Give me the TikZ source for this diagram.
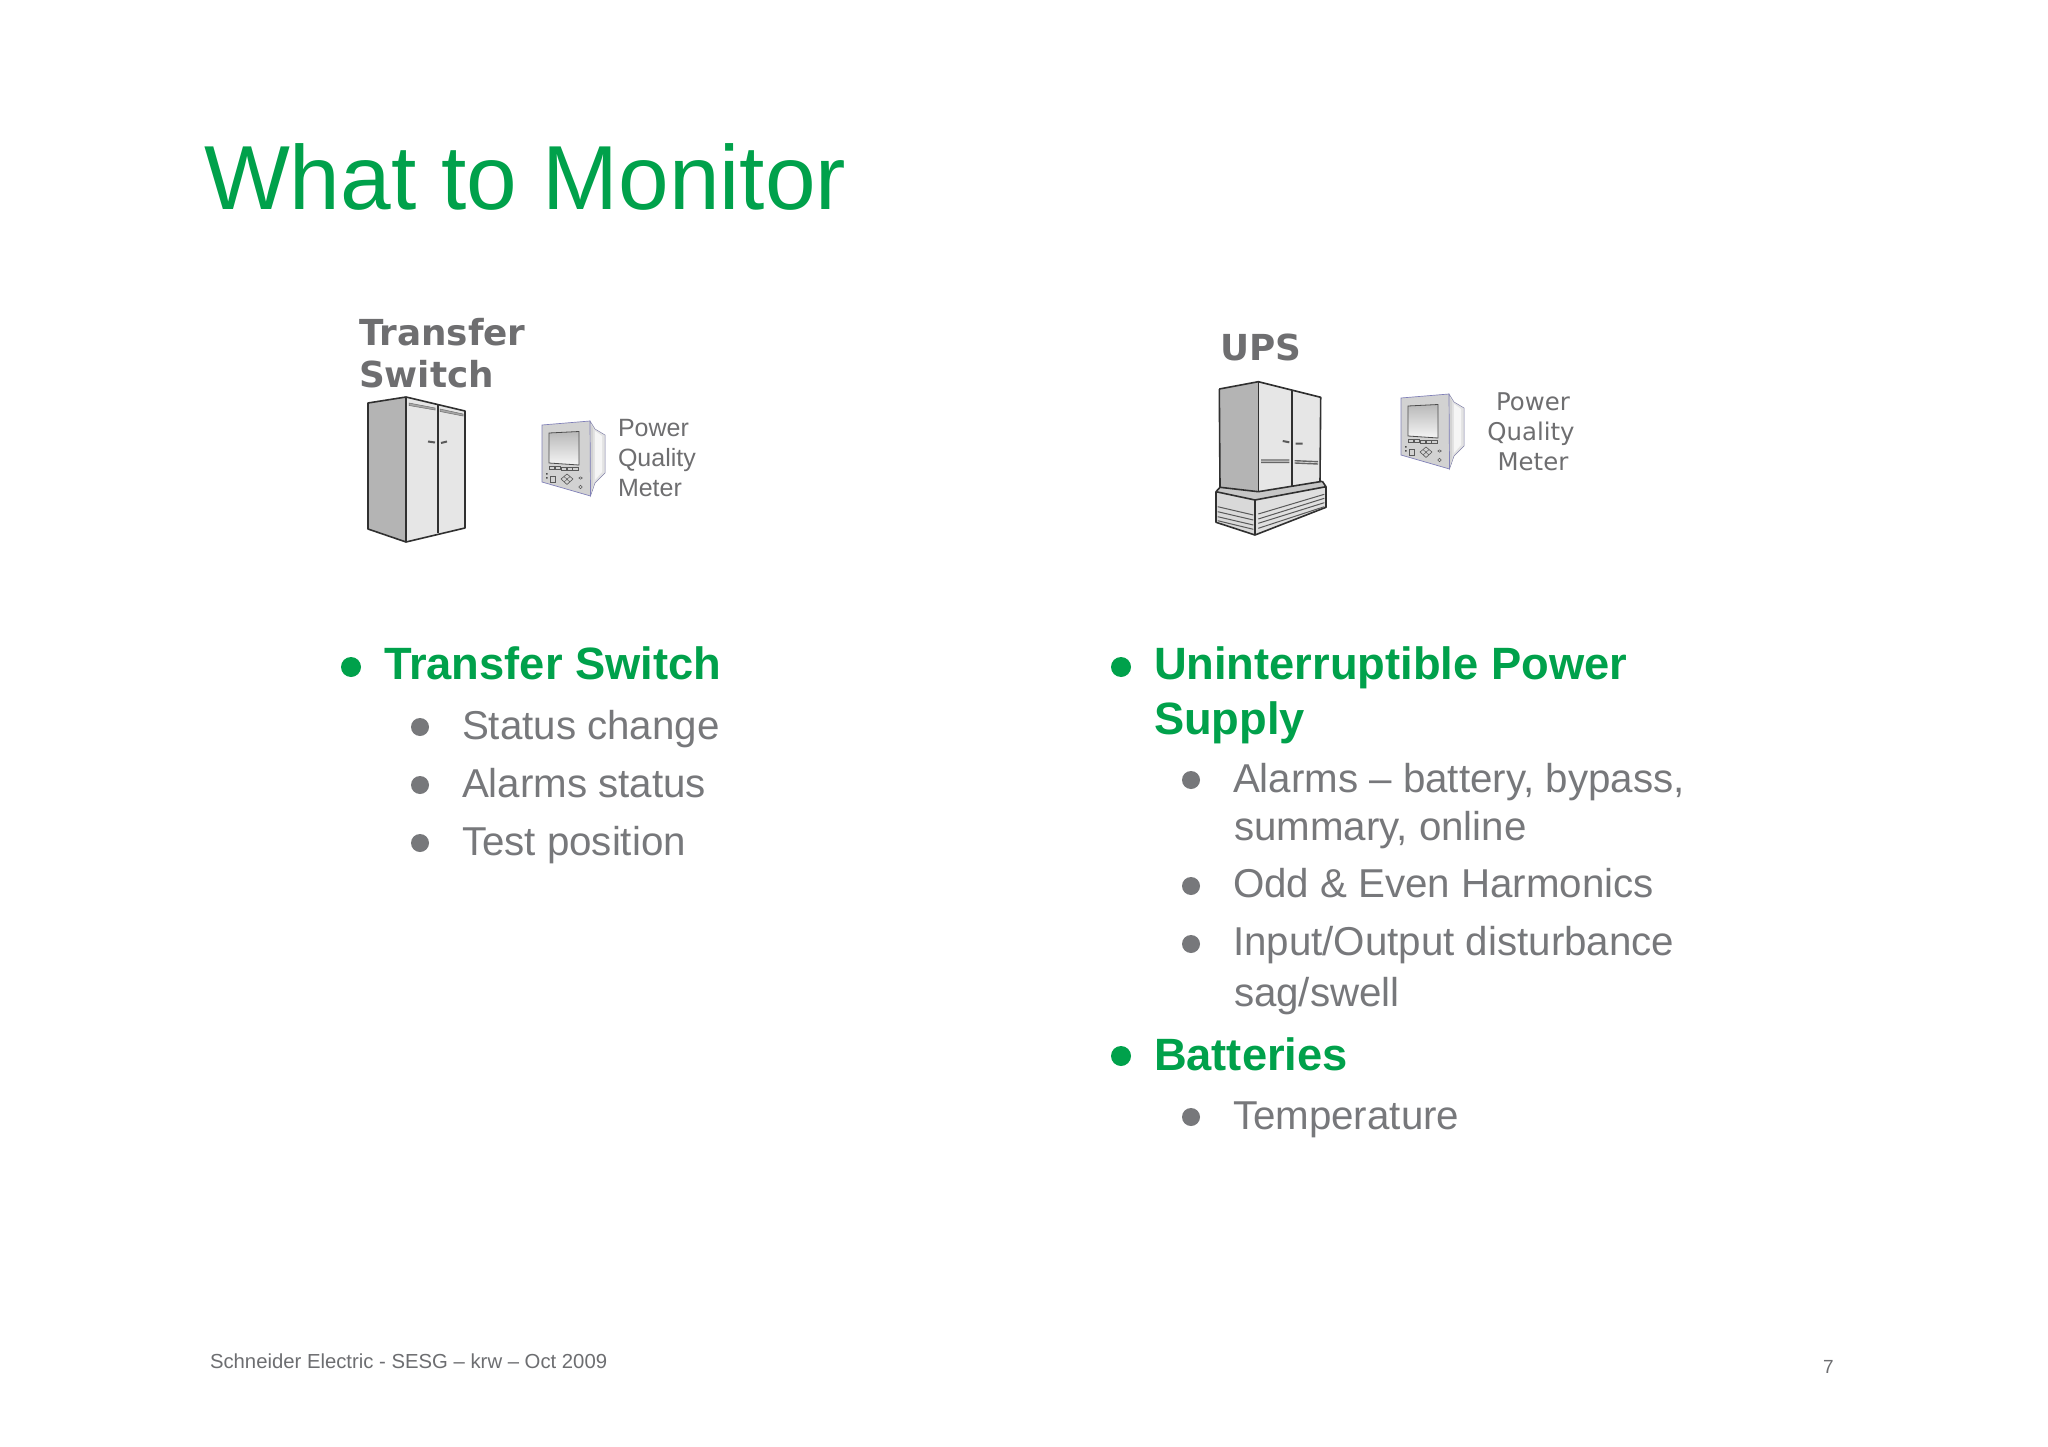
\documentclass[tikz,border=0pt]{standalone}
\usepackage{fontspec}
\setmainfont{Liberation Sans}
\newfontfamily\dejavu{DejaVu Sans}
\usetikzlibrary{shapes.geometric}
\definecolor{sgreen}{HTML}{00A14B}
\definecolor{sgray}{HTML}{77787B}
\definecolor{lgray}{HTML}{6E6E70}
\definecolor{foot}{HTML}{6D6E71}
\definecolor{sidegray}{HTML}{B4B4B4}
\definecolor{doorgray}{HTML}{E6E6E6}
\definecolor{line}{HTML}{303030}
\definecolor{facegray}{HTML}{D2D2D2}
\definecolor{edgeblue}{HTML}{8080B8}
\newcommand{\fsz}[1]{\fontsize{#1}{#1}\selectfont}
\tikzset{
  txt/.style={anchor=base west,inner sep=0pt,outer sep=0pt},
  title/.style={txt,text=sgreen,font=\fsz{91}},
  mainitem/.style={txt,text=sgreen,font=\fsz{45.3}\bfseries},
  subitem/.style={txt,text=sgray,font=\fsz{40.3}},
  eqlabel/.style={txt,text=lgray,font=\dejavu\bfseries\fsz{35.8}},
  mbullet/.style={circle,fill=sgreen,inner sep=0pt,minimum size=20pt},
  sbullet/.style={circle,fill=sgray,inner sep=0pt,minimum size=18pt},
  cab/.style={draw=line,line width=1.6pt,line join=round},
  thin line/.style={draw=line!80,line width=1pt},
  meterpic/.pic={
    \fill[gray!22,draw=edgeblue!70!gray,line width=.5pt] (48,-4)--(53,4)--(63,10)--(63,48)--(53,58)--(48.5,71)--cycle;
    \fill[white!92!gray] (53,6)--(60,11)--(60,47)--(53,55)--cycle;
    \fill[gray!35] (48,-2)--(51,3)--(51,60)--(48.5,69)--cycle;
    \fill[facegray,draw=edgeblue,line width=.7pt] (0,0)--(48,-4)--(48.5,71)--(0,57)--cycle;
    \path[top color=gray!55,bottom color=gray!8,draw=gray!60!black,line width=.8pt] (7,8)--(37,6.5)--(37,40)--(7,38)--cycle;
    \foreach \i in {0,1,2,3,4}{\draw[gray!70!black,fill=gray!35,line width=.5pt] (7.5+\i*5.8,41.5+\i*.2) rectangle ++(5.2,3);}
    \draw[gray!70!black,line width=.6pt] (25,49)--(31,54)--(25,59.5)--(19,54)--cycle;
    \draw[gray!70!black,line width=.5pt] (22,51.5)--(28,57) (28,51.5)--(22,57);
    \draw[gray!70!black,line width=.6pt] (8,51.5) rectangle (13.5,57);
    \fill[gray!60!black] (4,48) rectangle (5.5,49.5) (4,52) rectangle (5.5,53.5);
    \draw[gray!70!black,line width=.5pt] (38.5,53) ellipse (1.8 and 1.2);
    \draw[gray!70!black,line width=.6pt] (38.5,62) circle (1.8);
  }
}
\begin{document}
\begin{tikzpicture}[x=1pt,y=-1pt]
\useasboundingbox (0,0) rectangle (2048,1447);
\fill[white] (0,0) rectangle (2048,1447);

\node[title] (ttl) at (204,210) {What to Monitor};

\node[eqlabel] (tsa) at (359,345) {Transfer};
\node[eqlabel] (tsb) at (359,387) {Switch};
\node[eqlabel] (ups) at (1220,360) {UPS};

% transfer switch cabinet
\fill[sidegray] (368,403)--(406,397)--(406,542)--(368,529)--cycle;
\fill[doorgray] (406,397)--(465,411)--(465,528)--(406,542)--cycle;
\draw[cab] (368,403)--(406,397)--(465,411)--(465,528)--(406,542)--(368,529)--cycle;
\draw[cab] (406,397)--(406,542);
\draw[cab,line width=1.3pt] (438,405)--(438,533);
\draw[line!70,fill=gray!70,line width=.5pt] (409,403)--(435,408)--(435,410)--(409,405.5)--cycle;
\draw[line!70,fill=gray!70,line width=.5pt] (440,409)--(463,414)--(463,416)--(440,411.5)--cycle;
\draw[line!80,line width=2pt] (428,441.5)--(435,442.5) (441,443)--(447,441.5);

% meter left
\pic at (542,425) {meterpic};
\node[txt,text=lgray,font=\fsz{25}] (pl1) at (618,436) {Power};
\node[txt,text=lgray,font=\fsz{25}] (pl2) at (618,466) {Quality};
\node[txt,text=lgray,font=\fsz{25}] (pl3) at (618,496) {Meter};

% UPS cabinet
\fill[sidegray] (1219.3,389)--(1258.3,381.7)--(1258.3,491.7)--(1220,487.3)--cycle;
\fill[doorgray] (1258.3,381.7)--(1320.7,397.3)--(1320,482)--(1258.3,491.7)--cycle;
\fill[doorgray!70!gray] (1220,487.3)--(1216,491.7)--(1255,500)--(1326,486.7)--(1322.3,481.3)--(1258.3,491.7)--cycle;
\fill[gray!30] (1216,491.7)--(1255,500)--(1255,535)--(1216,522.3)--cycle;
\fill[gray!25] (1255,500)--(1326,486.7)--(1326,507.3)--(1255,535)--cycle;
\draw[cab] (1219.3,389)--(1258.3,381.7)--(1320.7,397.3)--(1320,482);
\draw[cab] (1219.3,389)--(1220,487.3);
\draw[cab] (1258.3,381.7)--(1258.3,491.7);
\draw[cab,line width=1.3pt] (1292,390.3)--(1292,485.7);
\draw[cab] (1220,487.3)--(1258.3,491.7)--(1322.3,481.3);
\draw[cab] (1220,487.3)--(1216,491.7)--(1255,500)--(1326,486.7)--(1322.3,481.3);
\draw[cab] (1216,491.7)--(1216,522.3)--(1255,535)--(1326,507.3)--(1326,486.7);
\draw[cab] (1255,500)--(1255,535);
\foreach \a/\b in {506.7/515,511.7/520,516.7/525,520.7/529.3}{\draw[thin line] (1217.7,\a)--(1253.3,\b);}
\foreach \a/\b in {514/494.3,519/498.3,523.3/502.7,528.3/506.7}{\draw[thin line] (1258.3,\a)--(1324.3,\b);}
\draw[gray!80!black,line width=1.4pt] (1261,460)--(1289.3,460) (1261,462.3)--(1289.3,462.3) (1294.7,460.7)--(1318,461.7) (1294.7,463)--(1318,464);
\draw[line!80,line width=2pt] (1282.7,441)--(1289.3,442.3) (1295.7,443.7)--(1302.7,443.7);

% meter right
\pic at (1401,398) {meterpic};
\node[anchor=base,inner sep=0pt,text=lgray,font=\dejavu\fsz{24.4}] (pr1) at (1533,410) {Power};
\node[anchor=base,inner sep=0pt,text=lgray,font=\dejavu\fsz{24.4}] (pr2) at (1531,440) {Quality};
\node[anchor=base,inner sep=0pt,text=lgray,font=\dejavu\fsz{24.4}] (pr3) at (1533,470) {Meter};

% left list
\node[mbullet] (b1) at (351,667) {};
\node[mainitem] (m1) at (384,679) {Transfer Switch};
\node[sbullet] (b2) at (420,727) {};
\node[subitem] (s1) at (462,739) {Status change};
\node[sbullet] (b3) at (420,785) {};
\node[subitem] (s2) at (462,797) {Alarms status};
\node[sbullet] (b4) at (420,843) {};
\node[subitem] (s3) at (462,855) {Test position};

% right list
\node[mbullet] (b5) at (1121,667) {};
\node[mainitem] (m2) at (1154,679) {Uninterruptible Power};
\node[mainitem] (m2b) at (1154,734) {Supply};
\node[sbullet] (b6) at (1191,780) {};
\node[subitem] (r1) at (1233,792) {Alarms – battery, bypass,};
\node[subitem] (r1b) at (1234,840) {summary, online};
\node[sbullet] (b7) at (1191,886) {};
\node[subitem] (r2) at (1233,897) {Odd \& Even Harmonics};
\node[sbullet] (b8) at (1191,944) {};
\node[subitem] (r3) at (1233,955) {Input/Output disturbance};
\node[subitem] (r3b) at (1234,1006) {sag/swell};
\node[mbullet] (b9) at (1121,1056) {};
\node[mainitem] (m3) at (1154,1070) {Batteries};
\node[sbullet] (b10) at (1191,1117) {};
\node[subitem] (r4) at (1233,1129) {Temperature};

% footer
\node[txt,text=foot,font=\fsz{20.3}] (ft) at (210,1368) {Schneider Electric - SESG – krw – Oct 2009};
\node[txt,text=foot,font=\fsz{19}] (pg) at (1823,1373) {7};
\end{tikzpicture}
\end{document}
